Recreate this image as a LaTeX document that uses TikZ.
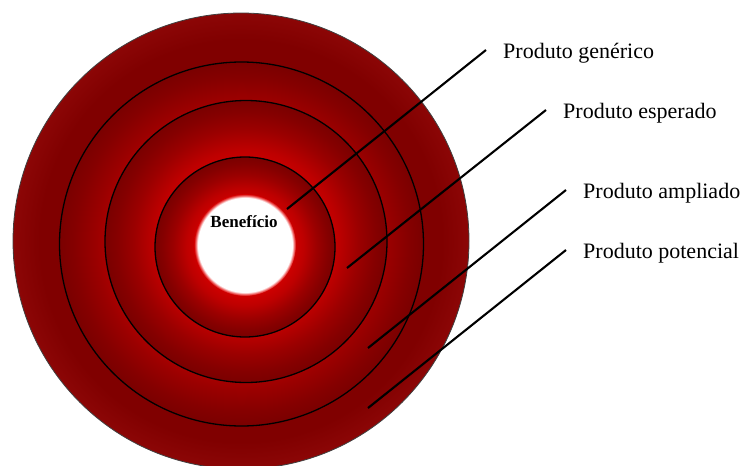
\documentclass[tikz,border=0pt]{standalone}
\usepackage{fontspec}
\setmainfont{Liberation Serif}
\definecolor{rA}{RGB}{222,0,0}
\definecolor{rB}{RGB}{212,0,0}
\definecolor{rC}{RGB}{190,0,0}
\definecolor{rD}{RGB}{155,0,0}
\definecolor{rE}{RGB}{133,0,0}
\definecolor{rF}{RGB}{122,0,0}
\definecolor{oA}{RGB}{128,0,0}
\definecolor{oB}{RGB}{140,6,6}
\definecolor{wA}{RGB}{240,110,110}
\pgfdeclareradialshading{disc}{\pgfpoint{0bp}{0bp}}{%
  color(0bp)=(rA); color(12.5bp)=(rB); color(16.25bp)=(rC);
  color(20bp)=(rD); color(23bp)=(rE); color(25bp)=(rF); color(50bp)=(rF)}
\pgfdeclareradialshading{outerdisc}{\pgfpoint{0bp}{0bp}}{%
  color(0bp)=(oA); color(22bp)=(oA); color(25bp)=(oB); color(50bp)=(oB)}
\pgfdeclareradialshading{core}{\pgfpoint{0bp}{0bp}}{%
  color(0bp)=(white); color(23.2bp)=(white); color(24.1bp)=(wA);
  color(25bp)=(rB); color(50bp)=(rB)}
\begin{document}
\begin{tikzpicture}[x=1pt,y=-1pt,
  ring/.style={draw=black,line width=1.3pt},
  leader/.style={draw=black,line width=2.1pt},
  lbl/.style={anchor=base west,font=\fontsize{22}{26}\selectfont,inner sep=0pt}]
\useasboundingbox (0,0) rectangle (742,466);
\path[shading=outerdisc] (241,241) circle[radius=228pt];
\draw[draw=black!75,line width=0.8pt] (241,241) circle[radius=228pt];
\path[shading=disc] (241.5,244) circle[radius=182pt];
\draw[ring] (241.5,244) circle[radius=182pt];
\path[shading=disc] (246,241.5) circle[radius=141pt];
\draw[ring] (246,241.5) circle[radius=141pt];
\path[shading=disc] (245,247) circle[radius=90pt];
\draw[ring] (245,247) circle[radius=90pt];
\path[shading=core] (245,245) circle[radius=51pt];
\node[font=\fontsize{17}{20}\selectfont\bfseries,anchor=base,inner sep=0pt] (benef) at (244,227) {Benefício};
\node[lbl] (gen) at (503,58) {Produto genérico};
\node[lbl] (esp) at (563,118) {Produto esperado};
\node[lbl] (amp) at (583,198) {Produto ampliado};
\node[lbl] (pot) at (583,258) {Produto potencial};
\coordinate (g1) at (287,209); \coordinate (g2) at (486,50);
\coordinate (e1) at (347,268); \coordinate (e2) at (546,110);
\coordinate (a1) at (368,348); \coordinate (a2) at (566,190);
\coordinate (p1) at (368,408); \coordinate (p2) at (566,250);
\draw[leader] (g1) -- (g2);
\draw[leader] (e1) -- (e2);
\draw[leader] (a1) -- (a2);
\draw[leader] (p1) -- (p2);
\end{tikzpicture}
\end{document}
